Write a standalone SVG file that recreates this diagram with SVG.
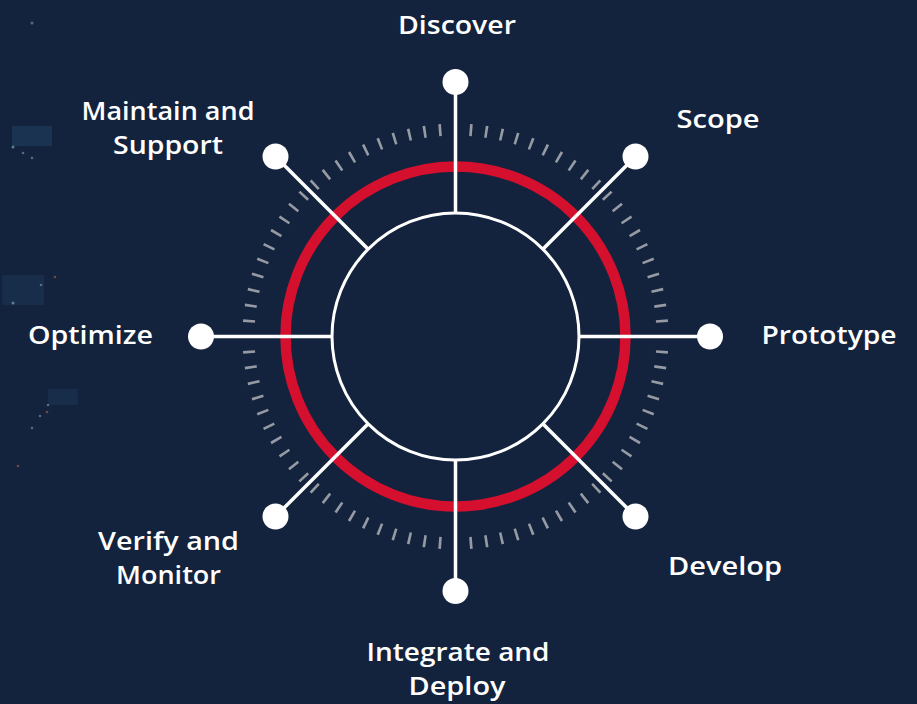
<svg xmlns="http://www.w3.org/2000/svg" width="917" height="704" viewBox="0 0 917 704">
  <defs>
    <style>
      .lbl { font-family: "Open Sans", "Liberation Sans", sans-serif; font-weight: 600; font-size: 26px; fill: #ffffff; text-anchor: middle; }
      .spoke { stroke: #ffffff; stroke-width: 3.5; fill: none; }
      .dot { fill: #ffffff; }
      .deco { fill: #3d7fa8; }
    </style>
  </defs>

  <rect x="0" y="0" width="917" height="704" fill="#13233d"/>

  <!-- faint background texture on the left -->
  <g id="texture">
    <rect class="deco" x="12" y="126" width="40" height="20" opacity="0.18"/>
    <rect class="deco" x="2" y="275" width="42" height="30" opacity="0.12"/>
    <rect class="deco" x="48" y="389" width="30" height="16" opacity="0.12"/>
    <circle cx="32" cy="23" r="1.5" fill="#8fb6cc" opacity="0.5"/>
    <circle cx="13" cy="147" r="1.5" fill="#8fb6cc" opacity="0.6"/>
    <circle cx="23" cy="153" r="1.3" fill="#8fb6cc" opacity="0.5"/>
    <circle cx="32" cy="158" r="1.3" fill="#8fb6cc" opacity="0.5"/>
    <circle cx="13" cy="303" r="1.5" fill="#8fb6cc" opacity="0.6"/>
    <circle cx="41" cy="285" r="1.3" fill="#8fb6cc" opacity="0.5"/>
    <circle cx="48" cy="405" r="1.3" fill="#8fb6cc" opacity="0.5"/>
    <circle cx="40" cy="416" r="1.3" fill="#8fb6cc" opacity="0.5"/>
    <circle cx="32" cy="428" r="1.3" fill="#8fb6cc" opacity="0.5"/>
    <circle cx="55" cy="277" r="1.3" fill="#d07040" opacity="0.5"/>
    <circle cx="47" cy="412" r="1.3" fill="#d07040" opacity="0.5"/>
    <circle cx="18" cy="466" r="1.3" fill="#d07040" opacity="0.5"/>
  </g>

  <!-- rings -->
  <g id="rings">
    <circle cx="455.5" cy="336.5" r="207" fill="none" stroke="#959aa3" stroke-width="12" pathLength="84" stroke-dasharray="0.17 0.83" stroke-dashoffset="0.085"/>
    <circle cx="455.5" cy="336.5" r="170" fill="none" stroke="#d4102e" stroke-width="10.5"/>
    <circle cx="455.5" cy="336.5" r="123.5" fill="none" stroke="#ffffff" stroke-width="3"/>
  </g>

  <!-- connectors -->
  <g id="connectors">
    <line class="spoke" x1="455.5" y1="213" x2="455.5" y2="82"/>
    <line class="spoke" x1="542.83" y1="249.17" x2="635.5" y2="156.5"/>
    <line class="spoke" x1="579" y1="336.5" x2="710" y2="336.5"/>
    <line class="spoke" x1="542.83" y1="423.83" x2="635.5" y2="516.5"/>
    <line class="spoke" x1="455.5" y1="460" x2="455.5" y2="591"/>
    <line class="spoke" x1="368.17" y1="423.83" x2="275.5" y2="516.5"/>
    <line class="spoke" x1="332" y1="336.5" x2="201" y2="336.5"/>
    <line class="spoke" x1="368.17" y1="249.17" x2="275.5" y2="156.5"/>
  </g>

  <!-- nodes -->
  <g id="discover">
    <circle class="dot" cx="455.5" cy="82" r="13"/>
    <text class="lbl" x="457" y="34" textLength="118" lengthAdjust="spacingAndGlyphs">Discover</text>
  </g>
  <g id="scope">
    <circle class="dot" cx="635.5" cy="156.5" r="13"/>
    <text class="lbl" x="718" y="128" textLength="83" lengthAdjust="spacingAndGlyphs">Scope</text>
  </g>
  <g id="prototype">
    <circle class="dot" cx="710" cy="336.5" r="13"/>
    <text class="lbl" x="829" y="344" textLength="135" lengthAdjust="spacingAndGlyphs">Prototype</text>
  </g>
  <g id="develop">
    <circle class="dot" cx="635.5" cy="516.5" r="13"/>
    <text class="lbl" x="725" y="575" textLength="114" lengthAdjust="spacingAndGlyphs">Develop</text>
  </g>
  <g id="integrate-deploy">
    <circle class="dot" cx="455.5" cy="591" r="13"/>
    <text class="lbl" x="458" y="661" textLength="183" lengthAdjust="spacingAndGlyphs">Integrate and</text>
    <text class="lbl" x="457" y="695" textLength="97" lengthAdjust="spacingAndGlyphs">Deploy</text>
  </g>
  <g id="verify-monitor">
    <circle class="dot" cx="275.5" cy="516.5" r="13"/>
    <text class="lbl" x="168.5" y="550" textLength="141" lengthAdjust="spacingAndGlyphs">Verify and</text>
    <text class="lbl" x="168.5" y="584" textLength="105" lengthAdjust="spacingAndGlyphs">Monitor</text>
  </g>
  <g id="optimize">
    <circle class="dot" cx="201" cy="336.5" r="13"/>
    <text class="lbl" x="90.5" y="344" textLength="125" lengthAdjust="spacingAndGlyphs">Optimize</text>
  </g>
  <g id="maintain-support">
    <circle class="dot" cx="275.5" cy="156.5" r="13"/>
    <text class="lbl" x="168" y="120" textLength="173" lengthAdjust="spacingAndGlyphs">Maintain and</text>
    <text class="lbl" x="168" y="154" textLength="110" lengthAdjust="spacingAndGlyphs">Support</text>
  </g>
</svg>
